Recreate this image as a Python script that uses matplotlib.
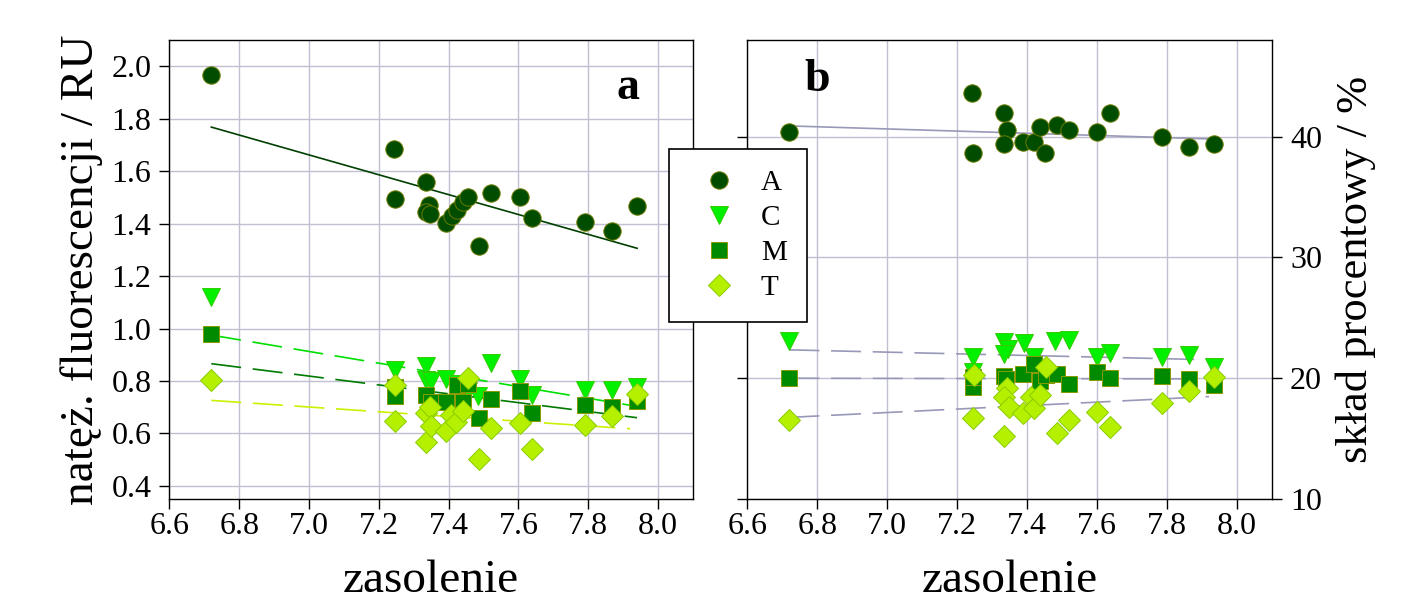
import numpy as np
import matplotlib
matplotlib.use("Agg")
import matplotlib.pyplot as plt
from matplotlib.lines import Line2D

plt.rcParams['font.family'] = ['Liberation Serif', 'DejaVu Serif']

# --- panel a: fluorescence intensity (RU) vs salinity ---
a_x_l = [6.72, 7.244, 7.246, 7.334, 7.344, 7.336, 7.346, 7.393, 7.41, 7.424, 7.441, 7.455, 7.486, 7.521, 7.605, 7.640, 7.791, 7.868, 7.939]
a_y_l = [1.968, 1.684, 1.494, 1.560, 1.471, 1.446, 1.438, 1.404, 1.43, 1.452, 1.484, 1.503, 1.316, 1.518, 1.501, 1.420, 1.405, 1.373, 1.468]

c_x_l = [6.72, 7.247, 7.334, 7.334, 7.35, 7.393, 7.425, 7.455, 7.485, 7.521, 7.605, 7.640, 7.791, 7.868, 7.94]
c_y_l = [1.121, 0.843, 0.856, 0.805, 0.80, 0.809, 0.79, 0.76, 0.741, 0.869, 0.809, 0.745, 0.764, 0.767, 0.777]

m_x_l = [6.72, 7.245, 7.245, 7.336, 7.35, 7.393, 7.425, 7.441, 7.455, 7.486, 7.521, 7.605, 7.640, 7.791, 7.868, 7.94]
m_y_l = [0.978, 0.777, 0.741, 0.745, 0.72, 0.72, 0.783, 0.72, 0.79, 0.659, 0.732, 0.762, 0.678, 0.71, 0.70, 0.722]

t_x_l = [6.72, 7.245, 7.245, 7.334, 7.336, 7.347, 7.35, 7.393, 7.407, 7.42, 7.44, 7.455, 7.486, 7.521, 7.605, 7.64, 7.791, 7.868, 7.94]
t_y_l = [0.805, 0.783, 0.646, 0.567, 0.678, 0.70, 0.63, 0.609, 0.669, 0.643, 0.685, 0.813, 0.503, 0.622, 0.64, 0.541, 0.631, 0.665, 0.752]

# regression lines (start / end values)
fit_x_l = [6.72, 7.94]
fit_x_t_l = [6.72, 7.92]
fit_a_l = [1.768, 1.306]
fit_c_l = [0.975, 0.703]
fit_m_l = [0.866, 0.660]
fit_t_l = [0.726, 0.618]

# --- panel b: percentage composition vs salinity ---
a_x_r = [6.72, 7.243, 7.246, 7.333, 7.343, 7.333, 7.389, 7.419, 7.437, 7.452, 7.484, 7.519, 7.601, 7.637, 7.787, 7.863, 7.935]
a_y_r = [40.36, 43.65, 38.62, 41.94, 40.55, 39.36, 39.59, 39.59, 40.77, 38.62, 40.97, 40.55, 40.41, 41.94, 40.0, 39.17, 39.36]

c_x_r = [6.72, 7.246, 7.246, 7.333, 7.346, 7.333, 7.391, 7.419, 7.48, 7.519, 7.60, 7.637, 7.787, 7.863, 7.935]
c_y_r = [23.07, 21.75, 20.5, 22.99, 22.44, 21.97, 22.91, 21.75, 23.07, 23.19, 21.75, 22.08, 21.75, 21.94, 20.97]

m_x_r = [6.72, 7.246, 7.246, 7.335, 7.34, 7.389, 7.419, 7.437, 7.455, 7.486, 7.519, 7.601, 7.637, 7.787, 7.863, 7.935]
m_y_r = [20.03, 19.31, 20.1, 20.22, 19.9, 20.36, 21.19, 19.8, 20.3, 20.36, 19.53, 20.55, 20.0, 20.22, 19.94, 19.47]

t_x_r = [6.72, 7.244, 7.248, 7.333, 7.343, 7.333, 7.349, 7.389, 7.41, 7.419, 7.437, 7.455, 7.484, 7.519, 7.601, 7.637, 7.787, 7.863, 7.935]
t_y_r = [16.54, 16.7, 20.3, 15.2, 19.2, 18.42, 17.65, 17.1, 18.42, 17.53, 18.64, 20.91, 15.48, 16.54, 17.17, 15.93, 17.95, 18.92, 20.14]

fit_x_r = [6.72, 7.935]
fit_x_t_r = [6.72, 7.92]
fit_a_r = [40.89, 39.8]
fit_c_r = [22.35, 21.52]
fit_m_r = [20.0, 19.94]
fit_t_r = [16.76, 18.48]

labels = ["A", "C", "M", "T"]
markers = ["o", "v", "s", "D"]
sizes = [12.5, 13.5, 12, 11.5]
face = ["#004d00", "#00f000", "#008a00", "#b4f000"]
edge = ["#6b7a00", "#33cc00", "#8a9a00", "#8ccc00"]
line_left = ["#004000", "#00e000", "#007a00", "#ccf000"]
line_right = "#9898b8"
grid_col = "#c0c0d2"
tick_fs = 23
label_fs = 34

fig = plt.figure(figsize=(14.24, 6.12), dpi=100)
ax1 = fig.add_axes([0.1190, 0.1846, 0.3676, 0.75])
ax2 = fig.add_axes([0.5249, 0.1846, 0.3683, 0.75])

dash = (0, (18, 7))

# panel a
ax1.plot(fit_x_l, fit_a_l, color=line_left[0], lw=1.2, zorder=2)
ax1.plot(fit_x_l, fit_c_l, color=line_left[1], lw=1.2, ls=dash, zorder=2)
ax1.plot(fit_x_l, fit_m_l, color=line_left[2], lw=1.2, ls=dash, zorder=2)
ax1.plot(fit_x_t_l, fit_t_l, color=line_left[3], lw=1.2, ls=dash, zorder=2)
for i, (xs, ys) in enumerate([(a_x_l, a_y_l), (c_x_l, c_y_l), (m_x_l, m_y_l), (t_x_l, t_y_l)]):
    ax1.plot(xs, ys, ls="none", marker=markers[i], ms=sizes[i], mfc=face[i], mec=edge[i], mew=0.7, zorder=3)

# panel b
ax2.plot(fit_x_r, fit_a_r, color=line_right, lw=1.2, zorder=2)
ax2.plot(fit_x_r, fit_c_r, color=line_right, lw=1.2, ls=dash, zorder=2)
ax2.plot(fit_x_r, fit_m_r, color=line_right, lw=1.2, ls=dash, zorder=2)
ax2.plot(fit_x_t_r, fit_t_r, color=line_right, lw=1.2, ls=dash, zorder=2)
for i, (xs, ys) in enumerate([(a_x_r, a_y_r), (c_x_r, c_y_r), (m_x_r, m_y_r), (t_x_r, t_y_r)]):
    ax2.plot(xs, ys, ls="none", marker=markers[i], ms=sizes[i], mfc=face[i], mec=edge[i], mew=0.7, zorder=3)

xt = np.arange(6.6, 8.01, 0.2)
for ax in (ax1, ax2):
    ax.set_xlim(6.6, 8.1)
    ax.set_xticks(xt)
    ax.set_xticklabels(["%.1f" % v for v in xt], fontsize=tick_fs)
    ax.grid(True, color=grid_col, lw=1.0)
    ax.set_axisbelow(True)
    ax.set_xlabel("zasolenie", fontsize=label_fs, labelpad=14)
    for s in ax.spines.values():
        s.set_linewidth(1.0)
    ax.tick_params(direction="out", length=7, width=1.0, pad=6)
    ax.tick_params(axis="x", pad=2)

ax1.set_ylim(0.35, 2.1)
yt = np.arange(0.4, 2.01, 0.2)
ax1.set_yticks(yt)
ax1.set_yticklabels(["%.1f" % v for v in yt], fontsize=tick_fs)
ax1.set_ylabel("natęż. fluorescencji / RU", fontsize=label_fs, labelpad=6)

ax2.set_ylim(10, 48)
ax2.set_yticks([10, 20, 30, 40])
ax2.set_yticklabels(["10", "20", "30", "40"], fontsize=tick_fs)
ax2.tick_params(axis="y", left=True, right=True, labelleft=False, labelright=True)
ax2.yaxis.set_label_position("right")
ax2.set_ylabel("skład procentowy / %", fontsize=32, labelpad=10)

ax1.text(0.876, 0.895, "a", transform=ax1.transAxes, fontsize=33, fontweight="bold", ha="center", va="center")
ax2.text(0.133, 0.912, "b", transform=ax2.transAxes, fontsize=33, fontweight="bold", ha="center", va="center")

handles = [Line2D([], [], ls="none", marker=markers[i], ms=sizes[i], mfc=face[i], mec=edge[i], mew=0.7) for i in range(4)]
leg = fig.legend(handles, labels, loc="upper left", bbox_to_anchor=(669 / 1424, 1 - 149 / 612),
                 frameon=True, fancybox=False, framealpha=1, edgecolor="black", fontsize=21,
                 handlelength=2.0, handletextpad=0.45, borderpad=0.7, labelspacing=0.3, borderaxespad=0)
leg.get_frame().set_linewidth(1.2)

fig.savefig("out.png", dpi=100)
